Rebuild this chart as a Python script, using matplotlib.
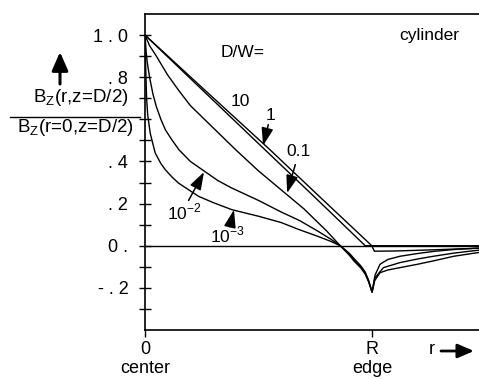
import numpy as np
import matplotlib
matplotlib.use("Agg")
import matplotlib.pyplot as plt

plt.rcParams['font.family'] = ['Liberation Sans', 'DejaVu Sans']

# r in units of R, field normalised to the centre value
r_10 = [0, 0.25, 0.529, 0.75, 0.97, 1.0, 1.2, 1.47]
b_10 = [1.0, 0.742, 0.455, 0.228, 0.0, 0.0, 0.0, 0.0]

r_1 = [0, 0.25, 0.551, 0.75, 0.999, 1.01, 1.1, 1.25, 1.47]
b_1 = [1.0, 0.752, 0.455, 0.252, 0.0, -0.026, -0.025, -0.02, -0.012]

r_01 = [0, 0.02, 0.05, 0.1, 0.15, 0.2, 0.3, 0.4, 0.5, 0.6, 0.7, 0.8, 0.86,
        0.9, 0.92, 0.95, 0.97, 0.985, 1.0, 1.012, 1.035, 1.07, 1.123, 1.2, 1.27, 1.36, 1.47]
b_01 = [1.0, 0.95, 0.9, 0.81, 0.735, 0.665, 0.56, 0.455, 0.355, 0.265, 0.175, 0.07, 0.0,
        -0.045, -0.072, -0.105, -0.135, -0.172, -0.22, -0.165, -0.128, -0.115, -0.104, -0.088, -0.072, -0.05, -0.032]

r_1em2 = [0, 0.005, 0.01, 0.02, 0.035, 0.05, 0.07, 0.09, 0.12, 0.15, 0.2, 0.26, 0.32, 0.38,
          0.45, 0.5, 0.6, 0.68, 0.76, 0.82, 0.86, 0.9, 0.92, 0.95, 0.97, 0.985, 1.0,
          1.013, 1.05, 1.123, 1.2, 1.27, 1.36, 1.47]
b_1em2 = [1.0, 0.92, 0.87, 0.8, 0.72, 0.66, 0.6, 0.55, 0.5, 0.455, 0.4, 0.355, 0.31, 0.275,
          0.24, 0.215, 0.16, 0.12, 0.07, 0.03, 0.0, -0.04, -0.066, -0.1, -0.13, -0.168, -0.22,
          -0.152, -0.104, -0.08, -0.063, -0.05, -0.035, -0.021]

r_1em3 = [0, 0.003, 0.007, 0.012, 0.023, 0.045, 0.07, 0.09, 0.12, 0.148, 0.2, 0.237, 0.3,
          0.383, 0.5, 0.6, 0.675, 0.76, 0.82, 0.86, 0.9, 0.92, 0.95, 0.97, 0.985, 1.0,
          1.013, 1.035, 1.07, 1.123, 1.2, 1.27, 1.36, 1.47]
b_1em3 = [1.0, 0.85, 0.7, 0.62, 0.534, 0.44, 0.39, 0.36, 0.325, 0.297, 0.26, 0.234, 0.205,
          0.171, 0.14, 0.11, 0.078, 0.045, 0.02, 0.0, -0.036, -0.06, -0.095, -0.125, -0.165, -0.22,
          -0.14, -0.088, -0.065, -0.05, -0.037, -0.027, -0.018, -0.011]

ytick_vals = [1.0, 0.8, 0.6, 0.4, 0.2, 0.0, -0.2]
ytick_text = ["1 . 0", ". 8", "", ". 4", ". 2", "0 .", "- . 2"]
xtick_vals = [0, 1.0]
xtick_text = ["0\ncenter", "R\nedge"]

W, H = 479, 379
fig = plt.figure(figsize=(W / 100, H / 100), dpi=100)
ax = fig.add_axes([145 / W, 1 - 330 / H, 1 - 145 / W, (330 - 14) / H])

lw = 1.0
ax.plot(r_10, b_10, color='k', lw=lw)
ax.plot(r_1, b_1, color='k', lw=lw)
ax.plot(r_01, b_01, color='k', lw=lw)
ax.plot(r_1em2, b_1em2, color='k', lw=lw)
ax.plot(r_1em3, b_1em3, color='k', lw=lw)
ax.axhline(0, color='k', lw=1.0)

ax.set_xlim(0, 1.471)
ax.set_ylim(-0.4, 1.1)
ax.spines['right'].set_visible(False)
for s in ['left', 'top', 'bottom']:
    ax.spines[s].set_linewidth(1.2)

ax.set_yticks(ytick_vals)
ax.set_yticklabels(ytick_text)
ax.set_yticks(np.arange(-0.3, 1.0, 0.2), minor=True)
ax.tick_params(axis='y', which='both', direction='inout', length=8, width=1.0,
               labelsize=13, pad=8)
ax.set_xticks(xtick_vals)
ax.set_xticklabels(xtick_text, linespacing=1.15)
ax.tick_params(axis='x', direction='out', length=5, width=1.0, labelsize=13, pad=3)

# curve labels
ax.text(0.43, 0.919, "D/W=", fontsize=12.5, ha='center', va='center')
ax.text(1.25, 1.0, "cylinder", fontsize=12.5, ha='center', va='center')
ax.text(0.419, 0.687, "10", fontsize=12.5, ha='center', va='center')
ax.text(0.551, 0.62, "1", fontsize=12.5, ha='center', va='center')
ax.text(0.676, 0.445, "0.1", fontsize=12.5, ha='center', va='center')
ax.text(0.172, 0.158, r"10$^{\mathregular{-2}}$", fontsize=12.5, ha='center', va='center')
ax.text(0.361, 0.05, r"10$^{\mathregular{-3}}$", fontsize=12.5, ha='center', va='center')

ap = dict(arrowstyle='-|>,head_width=0.3,head_length=0.9', color='k', lw=1.1,
          mutation_scale=12, shrinkA=0, shrinkB=0)
ax.annotate("", xy=(0.52, 0.475), xytext=(0.543, 0.575), arrowprops=ap)
ax.annotate("", xy=(0.626, 0.25), xytext=(0.662, 0.385), arrowprops=ap)
ax.annotate("", xy=(0.26, 0.35), xytext=(0.192, 0.215), arrowprops=ap)
ax.annotate("", xy=(0.392, 0.171), xytext=(0.374, 0.09), arrowprops=ap)

# y label as a fraction with an arrow above
fig.text(81 / W, 1 - 97 / H, r"B$_{\mathregular{Z}}$(r,z=D/2)", fontsize=13.5,
         ha='center', va='center')
fig.text(75 / W, 1 - 128 / H, r"B$_{\mathregular{Z}}$(r=0,z=D/2)", fontsize=13.5,
         ha='center', va='center')
fig.add_artist(plt.Line2D([10 / W, 140 / W], [1 - 116.5 / H, 1 - 116.5 / H],
                          color='k', lw=1.0))
fig.add_artist(matplotlib.patches.FancyArrowPatch(
    (60 / W, 1 - 84 / H), (60 / W, 1 - 52 / H), transform=fig.transFigure,
    arrowstyle='-|>,head_width=0.35,head_length=0.8', mutation_scale=14,
    color='k', lw=2.2, shrinkA=0, shrinkB=0))

# r arrow at the x axis
fig.text(432 / W, 1 - 350 / H, "r", fontsize=13, ha='center', va='center')
fig.add_artist(matplotlib.patches.FancyArrowPatch(
    (441 / W, 1 - 351 / H), (474 / W, 1 - 351 / H), transform=fig.transFigure,
    arrowstyle='-|>,head_width=0.3,head_length=0.7', mutation_scale=14,
    color='k', lw=2.0, shrinkA=0, shrinkB=0))

fig.savefig("out.png", dpi=100)
